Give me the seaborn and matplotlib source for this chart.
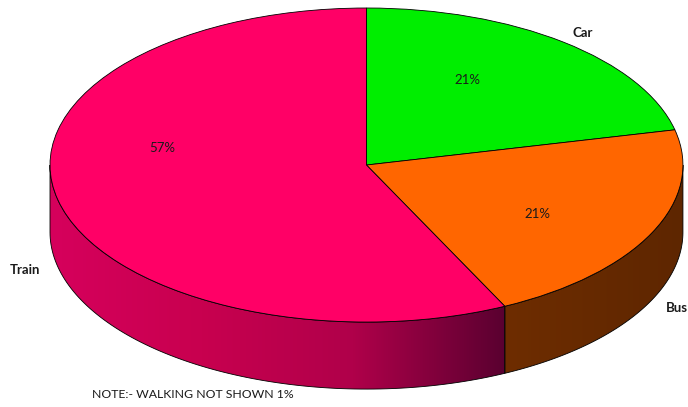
import numpy as np
import seaborn as sns
import matplotlib
matplotlib.use("Agg")
import matplotlib.pyplot as plt
from matplotlib.patches import Polygon
from matplotlib.colors import LinearSegmentedColormap

modes = ['Car', 'Bus', 'Train']
shares = [21.4, 21.4, 57.2]
top_colors = ['#00ee00', '#ff6600', '#ff0066']
note = 'NOTE:- WALKING NOT SHOWN 1%'

sns.set_theme(style="white")
plt.rcParams['font.family'] = ['Lato', 'DejaVu Sans']

fig = plt.figure(figsize=(6.88, 4.07), dpi=100)
ax = fig.add_axes([0, 0, 1, 1])

depth = 0.427  # thickness of the disc, in y radius units

# side walls get a left-to-right shading like the excel 3d pie
side_maps = {
    'Bus': LinearSegmentedColormap.from_list('bus', ['#6e2d00', '#5e2600']),
    'Train': LinearSegmentedColormap.from_list('train', ['#d6005c', '#c8004f', '#b0004a', '#5a0030']),
}

wedges, labels, pcts = ax.pie(shares, labels=modes, colors=top_colors, startangle=90,
                              counterclock=False, autopct='%.0f%%', pctdistance=0.63,
                              labeldistance=1.1,
                              wedgeprops=dict(edgecolor='black', linewidth=0.6),
                              textprops=dict(fontsize=9.5, color='#1a1a1a'))

# visible front part of each slice (angles between -180 and 0)
for w, name in zip(wedges, modes):
    a0, a1 = w.theta1, w.theta2
    segs = []
    for shift in (-360, 0, 360):
        s0, s1 = max(a0 + shift, -180), min(a1 + shift, 0)
        if s1 > s0:
            segs.append((s0, s1))
    for s0, s1 in segs:
        t = np.radians(np.linspace(s0, s1, 100))
        top = np.column_stack([np.cos(t), np.sin(t)])
        bot = np.column_stack([np.cos(t), np.sin(t) - depth])[::-1]
        poly = Polygon(np.vstack([top, bot]), closed=True, facecolor='none',
                       edgecolor='black', linewidth=0.6, zorder=0.6)
        ax.add_patch(poly)
        x0, x1 = np.cos(t).min(), np.cos(t).max()
        grad = np.linspace(0, 1, 256).reshape(1, -1)
        im = ax.imshow(grad, cmap=side_maps[name], aspect='auto',
                       extent=[x0, x1, -1 - depth, 0], zorder=0.5)
        im.set_clip_path(poly)

ax.set_aspect('auto')
ax.set_xlim(-1.158, 1.016)
ax.set_ylim(-1.541, 1.051)
ax.axis('off')

# excel puts the labels around the 3d shape, nudge them there
label_pos = {'Car': (0.684, 0.841), 'Bus': (0.981, -0.911), 'Train': (-1.079, -0.669)}
pct_pos = {'Car': (0.318, 0.541), 'Bus': (0.539, -0.312), 'Train': (-0.646, 0.108)}
for name, lab, pc in zip(modes, labels, pcts):
    lab.set_position(label_pos[name])
    lab.set_ha('center')
    lab.set_va('center')
    lab.set_fontweight('bold')
    pc.set_position(pct_pos[name])
    pc.set_ha('center')
    pc.set_va('center')

ax.text(-0.866, -1.462, note, fontsize=8.8, color='#1a1a1a', ha='left', va='center')

fig.savefig('out.png', dpi=100)
